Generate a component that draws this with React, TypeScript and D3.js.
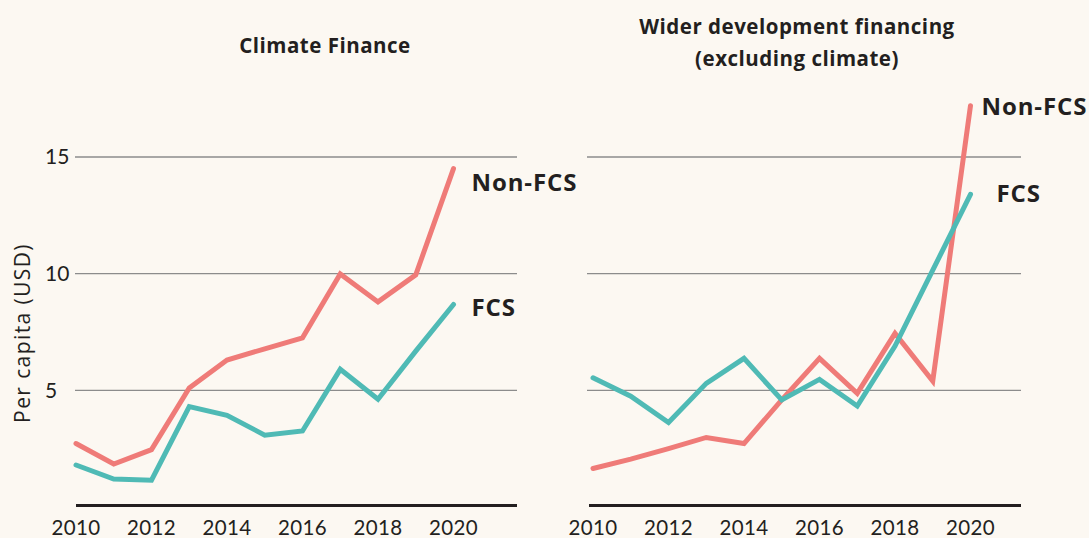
import React from "react";
import * as d3 from "d3";

const years = [2010, 2011, 2012, 2013, 2014, 2015, 2016, 2017, 2018, 2019, 2020];
const xTicks = [2010, 2012, 2014, 2016, 2018, 2020];
const yTicks = [5, 10, 15];

const climateNonFCS = [2.72, 1.84, 2.46, 5.1, 6.3, 6.78, 7.25, 9.99, 8.79, 9.95, 14.5];
const climateFCS = [1.8, 1.2, 1.15, 4.3, 3.93, 3.08, 3.26, 5.9, 4.62, 6.68, 8.68];
const widerNonFCS = [1.65, 2.05, 2.5, 2.98, 2.72, 4.59, 6.37, 4.87, 7.44, 5.4, 17.2];
const widerFCS = [5.54, 4.75, 3.62, 5.3, 6.37, 4.59, 5.47, 4.33, 6.9, 10.15, 13.4];

const panelTitles = [["Climate Finance"], ["Wider development financing", "(excluding climate)"]];
const seriesNames = ["Non-FCS", "FCS"];

const W = 1089;
const H = 538;
const BG = "#fcf8f2";
const RED = "#ef7b78";
const TEAL = "#4fbab5";
const TEXT = "#231f20";
const FONT = "Lato, 'Open Sans', sans-serif";
const BOLD = "'Open Sans', Lato, sans-serif";

const y = d3.scaleLinear().domain([0, 15]).range([507, 157]);

type Panel = {
  title: string[];
  titleY: number[];
  titleX: number;
  nonFCS: number[];
  fcs: number[];
  x: d3.ScaleLinear<number, number>;
  gridX: [number, number];
  axisX: [number, number];
  labelOffsets: { dx: number; dy: number }[];
  showY: boolean;
};

const panels: Panel[] = [
  {
    title: panelTitles[0],
    titleY: [53],
    titleX: 325,
    nonFCS: climateNonFCS,
    fcs: climateFCS,
    x: d3.scaleLinear().domain([2010, 2020]).range([76, 453.5]),
    gridX: [75, 517],
    axisX: [76, 517],
    labelOffsets: [
      { dx: 18, dy: 22 },
      { dx: 18, dy: 12 },
    ],
    showY: true,
  },
  {
    title: panelTitles[1],
    titleY: [34, 66],
    titleX: 797,
    nonFCS: widerNonFCS,
    fcs: widerFCS,
    x: d3.scaleLinear().domain([2010, 2020]).range([593, 970.5]),
    gridX: [587, 1021],
    axisX: [589, 1021],
    labelOffsets: [
      { dx: 11, dy: 9 },
      { dx: 26, dy: 8 },
    ],
    showY: false,
  },
];

function PanelView({ p }: { p: Panel }) {
  const line = d3
    .line<number>()
    .x((_, i) => p.x(years[i]))
    .y((d) => y(d));
  const series = [
    { name: seriesNames[0], data: p.nonFCS, color: RED },
    { name: seriesNames[1], data: p.fcs, color: TEAL },
  ];
  return (
    <g>
      {p.title.map((t, i) => (
        <text
          key={t}
          x={p.titleX}
          y={p.titleY[i]}
          textAnchor="middle"
          fontFamily={BOLD}
          fontWeight={700}
          fontSize={20.5}
          fill={TEXT}
          letterSpacing={0.5}
        >
          {t}
        </text>
      ))}
      {yTicks.map((t) => (
        <line key={t} x1={p.gridX[0]} x2={p.gridX[1]} y1={y(t)} y2={y(t)} stroke="#8c8c8c" strokeWidth={1.3} />
      ))}
      {p.showY &&
        yTicks.map((t) => (
          <text key={t} x={45} y={y(t)} dy="0.35em" fontFamily={FONT} fontSize={21} fill={TEXT}>
            {t}
          </text>
        ))}
      <line x1={p.axisX[0]} x2={p.axisX[1]} y1={y(0) - 1.5} y2={y(0) - 1.5} stroke={TEXT} strokeWidth={3} />
      {xTicks.map((t) => (
        <text key={t} x={p.x(t)} y={535} textAnchor="middle" fontFamily={FONT} fontSize={20.5} fill={TEXT} letterSpacing={0.3}>
          {t}
        </text>
      ))}
      {series.map((s) => (
        <path
          key={s.name}
          d={line(s.data) || ""}
          fill="none"
          stroke={s.color}
          strokeWidth={5}
          strokeLinecap="round"
          strokeLinejoin="miter"
        />
      ))}
      {series.map((s, i) => (
        <text
          key={s.name + "l"}
          x={p.x(years[years.length - 1]) + p.labelOffsets[i].dx}
          y={y(s.data[s.data.length - 1]) + p.labelOffsets[i].dy}
          fontFamily={BOLD}
          fontWeight={700}
          fontSize={24}
          fill={TEXT}
          letterSpacing={0.9}
        >
          {s.name}
        </text>
      ))}
    </g>
  );
}

export default function App() {
  return (
    <svg
      width={W}
      height={H}
      style={{ position: "absolute", left: 0, top: 0, display: "block" }}
    >
      <rect width={W} height={H} fill={BG} />
      <text
        transform="translate(30,333) rotate(-90)"
        textAnchor="middle"
        fontFamily="'Open Sans', Lato, sans-serif"
        fontSize={21}
        fill={TEXT}
        letterSpacing={1.4}
      >
        Per capita (USD)
      </text>
      {panels.map((p, i) => (
        <PanelView key={i} p={p} />
      ))}
    </svg>
  );
}
